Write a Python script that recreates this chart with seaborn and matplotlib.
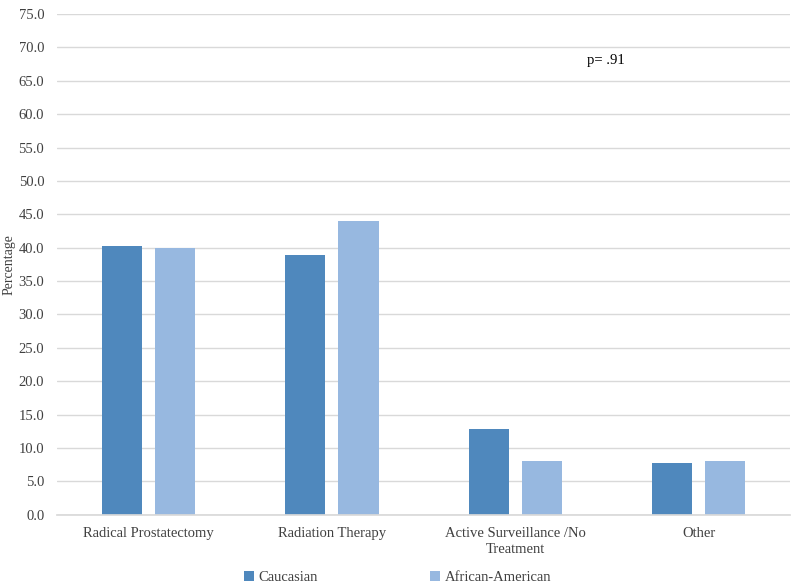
import numpy as np
import pandas as pd
import seaborn as sns
import matplotlib.pyplot as plt

treatments = ["Radical Prostatectomy", "Radiation Therapy",
              "Active Surveillance /No\nTreatment", "Other"]
caucasian = [40.3, 38.9, 12.9, 7.8]
african_american = [40.0, 44.0, 8.0, 8.0]
groups = ["Caucasian", "African-American"]
y_ticks = np.arange(0, 75.1, 5)

df = pd.DataFrame({
    "Treatment": treatments * 2,
    "Group": [groups[0]] * 4 + [groups[1]] * 4,
    "Percentage": caucasian + african_american,
})

sns.set_theme(style="white")
plt.rcParams['font.family'] = ['Liberation Serif', 'DejaVu Serif']

fig = plt.figure(figsize=(8, 5.85), dpi=100)
ax = fig.add_axes([0.071, 0.12, 0.917, 0.856])

sns.barplot(data=df, x="Treatment", y="Percentage", hue="Group",
            palette=["#4F88BD", "#97B8E0"], saturation=1, width=0.58, gap=0.245,
            edgecolor="none", ax=ax, legend=True)

ax.set_ylim(0, 75)
ax.set_yticks(y_ticks)
ax.set_yticklabels([f"{v:.1f}" for v in y_ticks])
ax.yaxis.grid(True, color="#D9D9D9", linewidth=1)
ax.set_axisbelow(True)
for s in ["top", "right", "left"]:
    ax.spines[s].set_visible(False)
ax.spines["bottom"].set_color("#D9D9D9")
ax.tick_params(axis="both", length=0, labelsize=10.5)
ax.tick_params(axis="y", pad=9)
ax.tick_params(axis="x", pad=9)
for lbl in ax.get_xticklabels() + ax.get_yticklabels():
    lbl.set_color("#404040")
    lbl.set_linespacing(1.25)
ax.set_xlabel("")
ax.set_ylabel("Percentage", fontsize=10, color="#404040", labelpad=2)

ax.text(0.748, 0.908, "p= .91", transform=ax.transAxes, fontsize=10.5,
        color="black", ha="center", va="center")

handles, labels = ax.get_legend_handles_labels()
ax.legend_.remove()
fig.legend(handles, labels, loc="center", bbox_to_anchor=(0.497, 0.013),
           ncol=2, frameon=False, fontsize=10.5, handlelength=0.7,
           handleheight=0.7, columnspacing=7.7, handletextpad=0.3,
           labelcolor="#404040")

fig.savefig("out.png", dpi=100)
